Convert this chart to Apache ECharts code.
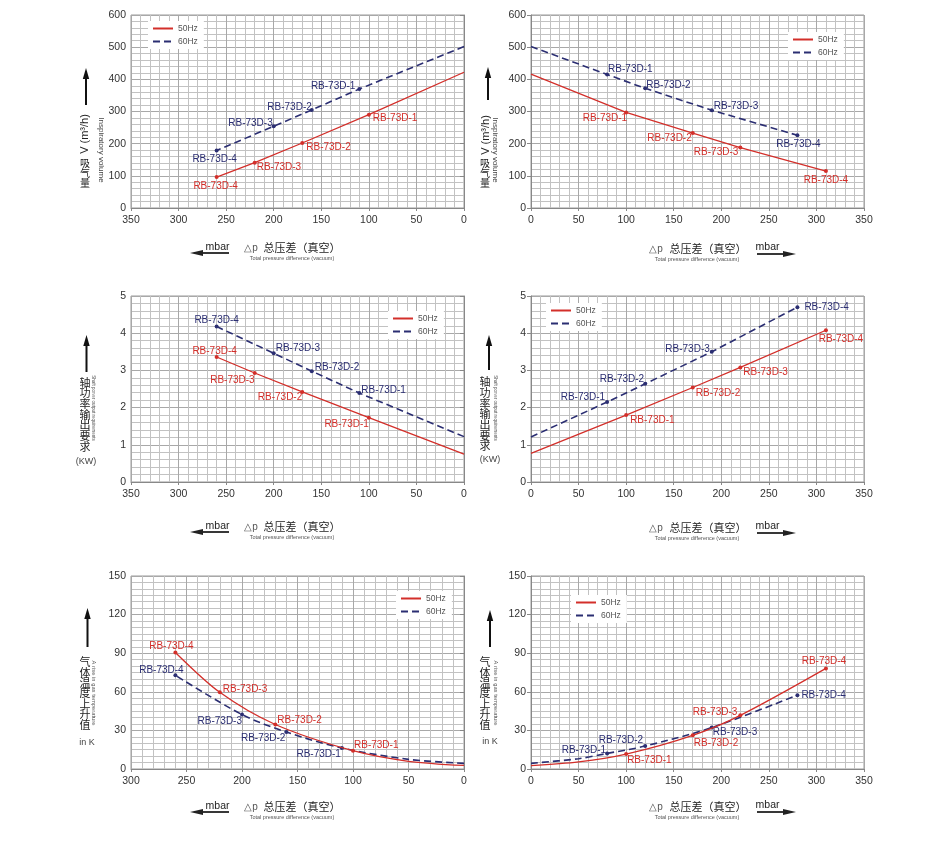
<!DOCTYPE html>
<html><head><meta charset="utf-8">
<script src="https://cdn.jsdelivr.net/npm/echarts@6/dist/echarts.min.js"></script>
<style>html,body{margin:0;padding:0;background:#fff}#c{width:932px;height:854px}</style>
</head><body><div id="c"></div>
<script>
// ---------------- DATA ----------------
const models = ['RB-73D-1', 'RB-73D-2', 'RB-73D-3', 'RB-73D-4'];
const seriesNames = ['50Hz', '60Hz'];

// Panel 1: 吸气量 V (m³/h), pressure axis reversed (350 → 0)
const p1_50_x = [0, 100, 170, 220, 260];
const p1_50_y = [422, 290, 202, 141, 96];
const p1_50_m = [0, 1, 2, 3, 4];
const p1_60_x = [0, 110, 160, 200, 260];
const p1_60_y = [502, 370, 305, 254, 179];
const p1_60_m = [0, 1, 2, 3, 4];

// Panel 2: 吸气量 V (m³/h), pressure axis 0 → 350
const p2_50_x = [0, 100, 170, 220, 310];
const p2_50_y = [416, 297, 233, 188, 115];
const p2_50_m = [0, 1, 2, 3, 4];
const p2_60_x = [0, 80, 120, 190, 280];
const p2_60_y = [502, 415, 372, 304, 226];
const p2_60_m = [0, 1, 2, 3, 4];

// Panel 3: 轴功率输出要求 (KW), reversed
const p3_50_x = [0, 100, 170, 220, 260];
const p3_50_y = [0.75, 1.73, 2.42, 2.93, 3.36];
const p3_50_m = [0, 1, 2, 3, 4];
const p3_60_x = [0, 110, 160, 200, 260];
const p3_60_y = [1.22, 2.39, 2.98, 3.46, 4.18];
const p3_60_m = [0, 1, 2, 3, 4];

// Panel 4: 轴功率输出要求 (KW)
const p4_50_x = [0, 100, 170, 220, 310];
const p4_50_y = [0.77, 1.80, 2.54, 3.08, 4.08];
const p4_50_m = [0, 1, 2, 3, 4];
const p4_60_x = [0, 80, 120, 190, 280];
const p4_60_y = [1.21, 2.15, 2.64, 3.50, 4.70];
const p4_60_m = [0, 1, 2, 3, 4];

// Panel 5: 气体温度上升值 in K, reversed (300 → 0)
const p5_50_x = [0, 50, 100, 170, 220, 260];
const p5_50_y = [2.8, 6, 14.2, 34.6, 59.6, 90.6];
const p5_50_m = [0, 0, 1, 2, 3, 4];
const p5_60_x = [0, 50, 110, 160, 200, 260];
const p5_60_y = [4.4, 7.5, 16.3, 28.7, 42.3, 72.8];
const p5_60_m = [0, 0, 1, 2, 3, 4];

// Panel 6: 气体温度上升值 in K
const p6_50_x = [0, 50, 100, 170, 220, 310];
const p6_50_y = [2.6, 5.5, 11.6, 26.2, 41.7, 78.2];
const p6_50_m = [0, 0, 1, 2, 3, 4];
const p6_60_x = [0, 50, 80, 120, 190, 280];
const p6_60_y = [4.4, 8, 12.1, 17.8, 32.2, 57.4];
const p6_60_m = [0, 0, 1, 2, 3, 4];

// ---------------- LAYOUT / STYLE ----------------
const RED = '#d32f2a', BLUE = '#2b2e72';
const LATIN = '"Liberation Sans", Arial, sans-serif';
const CJK = '"Noto Sans CJK SC", sans-serif';

// label placement per model point: [position, dx, dy]
const lab = {
  p1_50: [['right',0,4],['right',0,4],['right',-2,5],['bottom',-1,0]],
  p1_60: [['left',0,-3],['left',4,-3],['left',3,-3],['bottom',-2,0]],
  p2_50: [['left',5,6],['left',3,5],['left',2,5],['bottom',0,0]],
  p2_60: [['right',-3,-5],['right',-3,-3],['right',-2,-4],['bottom',1,0]],
  p3_50: [['left',4,7],['left',4,5],['left',4,7],['top',-2,3]],
  p3_60: [['right',-2,-3],['right',-1,-4],['right',-2,-5],['top',0,3]],
  p4_50: [['right',0,5],['right',-1,6],['right',-1,5],['bottom',15,0]],
  p4_60: [['left',2,-5],['left',3,-5],['left',2,-3],['right',3,0]],
  p5_50: [['right',-3,-5],['right',-2,-4],['right',-1,-3],['top',-4,3]],
  p5_60: [['left',3,6],['left',3,6],['left',4,7],['top',-14,4]],
  p6_50: [['right',-3,6],['right',-3,8],['left',1,-3],['top',-2,2]],
  p6_60: [['left',3,-3],['left',2,-6],['right',-3,5],['right',0,0]]
};

const panels = [
  {grid:{left:131,top:15,width:333,height:193}, inverse:true, xMax:350, yMax:600, yInt:100, yMinor:5, legend:[148,21]},
  {grid:{left:531,top:15,width:333,height:193}, inverse:false, xMax:350, yMax:600, yInt:100, yMinor:5, legend:[788,32]},
  {grid:{left:131,top:296,width:333,height:186}, inverse:true, xMax:350, yMax:5, yInt:1, yMinor:5, legend:[388,311]},
  {grid:{left:531,top:296,width:333,height:186}, inverse:false, xMax:350, yMax:5, yInt:1, yMinor:5, legend:[546,303]},
  {grid:{left:131,top:576,width:333,height:193}, inverse:true, xMax:300, yMax:150, yInt:30, yMinor:6, legend:[396,591]},
  {grid:{left:531,top:576,width:333,height:193}, inverse:false, xMax:350, yMax:150, yInt:30, yMinor:6, legend:[571,595]}
];

const seriesData = [
  [[p1_50_x,p1_50_y,p1_50_m,lab.p1_50,false],[p1_60_x,p1_60_y,p1_60_m,lab.p1_60,false]],
  [[p2_50_x,p2_50_y,p2_50_m,lab.p2_50,false],[p2_60_x,p2_60_y,p2_60_m,lab.p2_60,false]],
  [[p3_50_x,p3_50_y,p3_50_m,lab.p3_50,false],[p3_60_x,p3_60_y,p3_60_m,lab.p3_60,false]],
  [[p4_50_x,p4_50_y,p4_50_m,lab.p4_50,false],[p4_60_x,p4_60_y,p4_60_m,lab.p4_60,false]],
  [[p5_50_x,p5_50_y,p5_50_m,lab.p5_50,0.3],[p5_60_x,p5_60_y,p5_60_m,lab.p5_60,0.3]],
  [[p6_50_x,p6_50_y,p6_50_m,lab.p6_50,0.3],[p6_60_x,p6_60_y,p6_60_m,lab.p6_60,0.3]]
];

const grids = [], xAxes = [], yAxes = [], series = [], legends = [];
panels.forEach((p, i) => {
  grids.push(Object.assign({show:true, borderColor:'#9a9a9a', borderWidth:1, containLabel:false}, p.grid));
  xAxes.push({
    type:'value', gridIndex:i, min:0, max:p.xMax, interval:50, inverse:p.inverse,
    axisLine:{show:true, lineStyle:{color:'#888', width:1}},
    axisTick:{show:true, length:3, lineStyle:{color:'#888'}},
    axisLabel:{color:'#333', fontSize:10.5, fontFamily:LATIN, margin:7},
    splitLine:{show:true, lineStyle:{color:'#a8a8a8', width:1}},
    minorTick:{show:false, splitNumber:5},
    minorSplitLine:{show:true, lineStyle:{color:'#c2c2c2', width:1}}
  });
  yAxes.push({
    type:'value', gridIndex:i, min:0, max:p.yMax, interval:p.yInt,
    axisLine:{show:true, lineStyle:{color:'#888', width:1}},
    axisTick:{show:true, length:4, lineStyle:{color:'#888'}},
    axisLabel:{color:'#333', fontSize:10.5, fontFamily:LATIN, margin:5},
    splitLine:{show:true, lineStyle:{color:'#a8a8a8', width:1}},
    minorTick:{show:false, splitNumber:p.yMinor},
    minorSplitLine:{show:true, lineStyle:{color:'#c2c2c2', width:1}}
  });
  seriesData[i].forEach((s, k) => {
    const [xs, ys, ms, pl, smooth] = s;
    const color = k === 0 ? RED : BLUE;
    const data = xs.map((x, j) => {
      const m = ms[j];
      if (!m) return {value:[x, ys[j]]};
      const q = pl[m - 1];
      return {value:[x, ys[j]], symbol:'circle', symbolSize:4,
        label:{show:true, position:q[0], offset:[q[1], q[2]], formatter: models[m - 1]}};
    });
    series.push({
      type:'line', name:seriesNames[k], xAxisIndex:i, yAxisIndex:i,
      data, symbol:'none', showSymbol:true, smooth:smooth,
      lineStyle:{color, width: k === 0 ? 1.3 : 1.6, type: k === 0 ? 'solid' : [7, 4]},
      itemStyle:{color},
      label:{color, fontSize:10, fontFamily:LATIN, distance:2},
      emphasis:{disabled:true}, silent:true, animation:false, z: 3 - k
    });
  });
  legends.push({
    left:p.legend[0], top:p.legend[1], orient:'vertical', data:seriesNames,
    backgroundColor:'#fff', padding:[3,6,3,4], itemWidth:20, itemHeight:9, itemGap:4,
    itemStyle:{opacity:0, borderWidth:0},
    textStyle:{color:'#555', fontSize:8.5, fontFamily:LATIN}, selectedMode:false
  });
});

// ---------------- AXIS TITLES (graphics) ----------------
const G = [];
function txt(x, y, text, size, color, font, rot) {
  G.push({type:'text', x, y, rotation: rot || 0, silent:true,
    style: {text, fill:color, fontSize:size, fontFamily:font, align:'center', verticalAlign:'middle'}});
}
function stack(x, yTop, chars, size, step, color) {
  chars.split('').forEach((c, i) => txt(x, yTop + i * step, c, size, color, CJK, 0));
}
function upArrow(x, yTip, yBot) {
  G.push({type:'line', silent:true, shape:{x1:x, y1:yBot, x2:x, y2:yTip + 8}, style:{stroke:'#111', lineWidth:2}});
  G.push({type:'polygon', silent:true, shape:{points:[[x, yTip], [x - 3.2, yTip + 11], [x + 3.2, yTip + 11]]}, style:{fill:'#111'}});
}
function hArrow(x1, x2, y, dir) {
  if (dir < 0) {
    G.push({type:'line', silent:true, shape:{x1:x1 + 8, y1:y, x2:x2, y2:y}, style:{stroke:'#222', lineWidth:1.8}});
    G.push({type:'polygon', silent:true, shape:{points:[[x1, y], [x1 + 13, y - 3], [x1 + 13, y + 3]]}, style:{fill:'#222'}});
  } else {
    G.push({type:'line', silent:true, shape:{x1:x1, y1:y, x2:x2 - 8, y2:y}, style:{stroke:'#222', lineWidth:1.8}});
    G.push({type:'polygon', silent:true, shape:{points:[[x2, y], [x2 - 13, y - 3], [x2 - 13, y + 3]]}, style:{fill:'#222'}});
  }
}
function xTitle(left, yRow) {
  if (left) {
    txt(217.5, yRow - 6, 'mbar', 10.5, '#222', LATIN);
    hArrow(190, 229, yRow, -1);
    txt(251, yRow - 5, '△p', 10, '#555', LATIN);
    txt(302, yRow - 5, '总压差（真空）', 11, '#222', CJK);
    txt(292, yRow + 5, 'Total pressure difference (vacuum)', 5.5, '#555', LATIN);
  } else {
    txt(656, yRow - 5, '△p', 10, '#555', LATIN);
    txt(708, yRow - 5, '总压差（真空）', 11, '#222', CJK);
    txt(697, yRow + 5, 'Total pressure difference (vacuum)', 5.5, '#555', LATIN);
    txt(767.5, yRow - 7, 'mbar', 10.5, '#222', LATIN);
    hArrow(757, 796, yRow, 1);
  }
}
xTitle(true, 253); xTitle(false, 254);
xTitle(true, 532); xTitle(false, 533);
xTitle(true, 812); xTitle(false, 812);

// Row 1 y titles
upArrow(86, 68, 105);
txt(85, 134, 'V (m³/h)', 11, '#222', LATIN, Math.PI / 2);
stack(85, 163, '吸气量', 10, 10, '#222');
txt(101, 150, 'Inspiratory volume', 8, '#444', LATIN, -Math.PI / 2);
upArrow(488, 67, 100);
txt(486, 135, 'V (m³/h)', 11, '#222', LATIN, Math.PI / 2);
stack(485, 163, '吸气量', 10, 10, '#222');
txt(495, 150, 'Inspiratory volume', 8, '#444', LATIN, -Math.PI / 2);

// Row 2
upArrow(86.5, 335, 372);
stack(85, 382.5, '轴功率输出要求', 11, 10.7, '#222');
txt(86, 462, '(KW)', 9, '#444', LATIN);
txt(93.5, 408, 'Shaft power output requirements', 4.5, '#555', LATIN, -Math.PI / 2);
upArrow(489, 335, 370);
stack(485, 382, '轴功率输出要求', 11, 10.7, '#222');
txt(490, 460, '(KW)', 9, '#444', LATIN);
txt(495, 408, 'Shaft power output requirements', 4.5, '#555', LATIN, -Math.PI / 2);

// Row 3
upArrow(87.5, 608, 647);
stack(85, 662, '气体温度上升值', 11, 10.4, '#222');
txt(87, 743, 'in K', 9, '#444', LATIN);
txt(93.5, 693, 'A rise in gas temperature', 5.8, '#555', LATIN, -Math.PI / 2);
upArrow(490, 610, 647);
stack(485, 662, '气体温度上升值', 11, 10.4, '#222');
txt(490, 742, 'in K', 9, '#444', LATIN);
txt(496, 693, 'A rise in gas temperature', 5.8, '#555', LATIN, -Math.PI / 2);

const chart = echarts.init(document.getElementById('c'), null, {renderer:'canvas'});
chart.setOption({
  animation:false, backgroundColor:'#fff',
  grid:grids, xAxis:xAxes, yAxis:yAxes, series, legend:legends, graphic:G
});
</script></body></html>
